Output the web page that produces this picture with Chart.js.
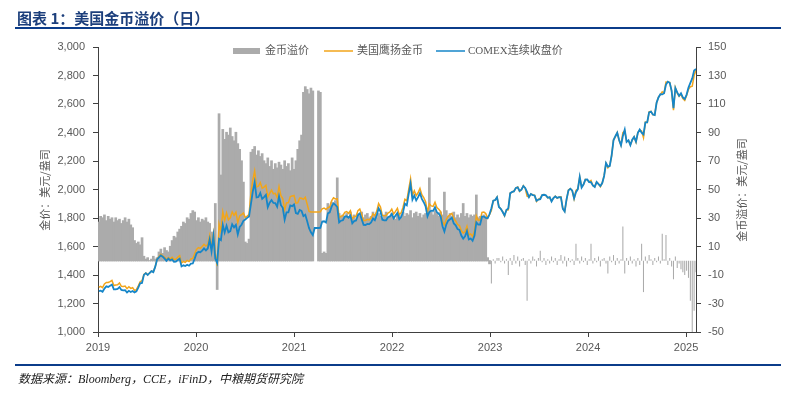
<!DOCTYPE html>
<html>
<head>
<meta charset="utf-8">
<script src="https://cdn.jsdelivr.net/npm/chart.js@4.4.1/dist/chart.umd.min.js"></script>
<style>
    html, body { margin: 0; padding: 0; background: #fff; }
    #contenitore { position: relative; width: 797px; height: 397px; overflow: hidden; }
    #myChart { position: absolute; left: 0; top: 0; }
    #titolo { position: absolute; left: 17px; top: 7px; font: bold 15px "Noto Sans CJK SC", sans-serif; color: #1c3f7c; white-space: nowrap; }
    .riga { position: absolute; left: 15px; width: 766px; height: 2px; background: #0b3c8a; }
    #fonte { position: absolute; left: 18px; top: 369px; font: italic 12px "Liberation Serif", "Noto Sans CJK SC", serif; color: #222; white-space: nowrap; }
</style>
</head>
<body>
<div id="contenitore">
    <canvas id="myChart" width="797" height="397"></canvas>
    <div id="titolo">图表 1：美国金币溢价（日）</div>
    <div class="riga" style="top:27px"></div>
    <div class="riga" style="top:364px"></div>
    <div id="fonte">数据来源：Bloomberg，CCE，iFinD，中粮期货研究院</div>
</div>
<script>
// dati settimanali (venerdi), dal 2019-01-04
var primoGiorno = '2019-01-04';

var comex2019 = [1287,1290,1282,1305, 1320,1316,1324,1332, 1299,1300,1303,1315,1295, 1292,1293,1277,1289, 1281,1288,1278,1285,1311, 1342,1344,1401,1413, 1400,1414,1427,1420, 1457,1509,1524,1537,1529, 1515,1500,1516,1503, 1510,1493,1494,1505, 1514,1460,1468,1463,1472, 1465,1480,1481,1515];
var comex2020 = [1552,1562,1560,1571,1587, 1573,1586,1649,1566, 1672,1516,1484,1654, 1645,1752,1699,1745, 1700,1708,1756,1734,1751, 1685,1737,1753,1780, 1790,1801,1810,1897,1986, 2050,1944,1947,1975, 1934,1947,1962,1876, 1907,1926,1906,1905,1879, 1951,1890,1872,1788, 1840,1840,1888,1883];
var comex2021 = [1895,1835,1829,1856,1850, 1813,1823,1777,1729, 1700,1680,1730,1730, 1730,1731,1775,1777,1768, 1832,1840,1880,1903, 1892,1877,1769,1781, 1784,1810,1812,1802,1817, 1763,1778,1782,1819, 1832,1791,1752,1751, 1758,1757,1768,1796,1784, 1818,1868,1846,1788, 1784,1784,1805,1811,1829];
var comex2022 = [1797,1817,1835,1792, 1807,1842,1900,1889, 1967,2040,1929,1958, 1923,1946,1974,1934,1911, 1882,1811,1842,1851, 1850,1875,1840,1830, 1811,1742,1705,1754,1781, 1791,1802,1762,1749, 1722,1717,1677,1655,1672, 1709,1650,1656,1640, 1676,1769,1754,1754, 1809,1810,1800,1798,1826];
var comex2023 = [1869,1921,1926,1945, 1877,1865,1842,1817, 1856,1868,1973,1983,1986, 2011,2015,1990,1999, 2025,2011,1981,1946, 1969,1961,1958,1920,1929, 1932,1961,1963,1960, 1942,1946,1916,1940, 1952,1941,1946,1945,1866, 1845,1932,1994,2006, 1992,1938,1981,2003, 2089,2014,2035,2069,2071];
var comex2024 = [2052,2051,2029,2018, 2053,2038,2024,2045, 2095,2185,2161,2165,2238, 2345,2374,2398,2347, 2310,2375,2420,2334,2346, 2311,2349,2369,2336, 2397,2421,2399,2386, 2470,2472,2541,2547,2527, 2523,2610,2646,2668, 2667,2676,2736,2756, 2749,2694,2570,2712,2681, 2657,2675,2646,2635];
var comex2025 = [2666,2715,2748,2780,2835, 2845];

var aquila2019 = [1314,1321,1312,1337, 1348,1347,1353,1362, 1326,1330,1331,1344,1321, 1320,1323,1304,1318, 1306,1311,1292,1297,1324, 1353,1360,1404,1414, 1402,1414,1428,1423, 1458,1511,1530,1545,1534, 1524,1507,1522,1513, 1524,1510,1510,1525, 1536,1484,1495,1489,1502, 1494,1513,1516,1549];
var aquila2020 = [1580,1592,1587,1600,1615, 1603,1613,1675,1586, 1690,1556,1464,1757, 1705,1844,1784,1835, 1788,1801,1843,1818,1841, 1767,1815,1823,1835, 1803,1813,1825,1973,2064, 2130,2018,2024,2048, 2009,2017,2030,1948, 1973,1996,1970,1973,1944, 2020,1957,1936,1858, 1906,1908,1951,1955];
var aquila2021 = [1959,1905,1907,1940,1938, 1931,1945,1897,1846, 1842,1842,1842,1842, 1842,1843,1865,1870,1860, 1872,1878,1921,1942, 1934,1935,1802,1812, 1816,1840,1845,1833,1851, 1793,1810,1811,1852, 1863,1825,1782,1783, 1791,1787,1799,1830,1816, 1848,1901,1877,1817, 1816,1818,1835,1842,1862];
var aquila2022 = [1828,1846,1868,1824, 1837,1876,1931,1922, 1999,2075,1959,1991, 1957,1977,2007,1964,1943, 1915,1842,1900,1885, 1882,1910,1873,1861, 1845,1774,1753,1789,1812, 1824,1833,1796,1779, 1754,1747,1710,1695,1703, 1742,1680,1688,1671, 1708,1815,1784,1785, 1839,1842,1831,1800,1824];
var aquila2023 = [1853,1922,1924,1947, 1879,1864,1845,1815, 1857,1858,1975,1980,1990, 2009,2018,1986,2000, 2027,2008,1953,1947, 1967,1964,1959,1916,1931, 1939,1960,1965,1957, 1943,1944,1919,1939, 1954,1938,1947,1949,1864, 1848,1928,1996,2005, 1993,1935,1993,2005, 2087,2017,2034,2071,2068];
var aquila2024 = [2053,2063,2027,2020, 2052,2041,2020,2046, 2097,2183,2152,2168,2237, 2349,2371,2400,2345, 2311,2399,2411,2336,2343, 2314,2347,2370,2332, 2399,2418,2411,2364, 2473,2470,2545,2548,2524, 2525,2609,2649,2666, 2686,2677,2754,2753, 2751,2690,2557,2715,2676, 2655,2669,2638,2625];
var aquila2025 = [2659,2703,2720,2725,2800, 2837];

var premio2019 = [27,31,30,32, 28,31,29,30, 27,30,28,29,26, 28,30,27,29, 25,23,14,12,13, 11,16,3,1, 2,0,1,3, 1,2,6,8,5, 9,7,6,10, 14,17,16,20, 22,24,27,26,30, 29,33,35,34];
var premio2020 = [28,30,27,29,28, 30,27,26,20, 18,40,-20,103, 60,92,85,90, 88,93,87,84,90, 82,78,70,55, 13,12,15,76,78, 80,74,77,73, 75,70,68,72, 66,70,64,68,65, 69,67,64,70, 66,68,63,72];
var premio2021 = [64,70,78,84,88, 118,122,120,117, 121,119,null,null, 119,118,5,6,5, 40,38,41,39, 42,58,33,31, 32,30,33,31,34, 30,32,29,33, 31,34,30,32, 33,30,31,34,32, 30,33,31,29, 32,34,30,31,33];
var premio2022 = [31,29,33,32, 30,34,31,33, 32,35,30,33, 34,31,33,30,32, 33,31,58,34, 32,35,33,31, 34,32,48,35,31, 33,31,34,30, 32,30,33,40,31, 33,30,32,31, 32,46,30,31, 30,32,31,2,-2];
var premio2023 = [-16,1,-2,2, 2,-1,3,-2, 1,-10,2,-3,4, -2,3,-4,1, 2,-3,-28,1, -2,3,1,-4,2, 7,-1,2,-3, 1,-2,3,-1, 2,-3,1,4,-2, 3,-4,2,-1, 1,-3,12,2, -2,3,-1,2,-3];
var premio2024 = [1,12,-2,2, -1,3,-4,1, 2,-2,-9,3,-1, 4,-3,2,-2, 1,24,-9,2,-3, 3,-2,1,-4, 2,-3,12,-22, 3,-2,4,1,-3, 2,-1,3,-2, 19,1,18,-3, 2,-4,-13,3,-5, -2,-6,-8,-10];
var premio2025 = [-7,-12,-28,-55,-35, -8];

var tickAnni = [2019, 2020, 2021, 2022, 2023, 2024, 2025];
var tickSinistra = [1000, 1200, 1400, 1600, 1800, 2000, 2200, 2400, 2600, 2800, 3000];
var tickDestra = [-50, -30, -10, 10, 30, 50, 70, 90, 110, 130, 150];

var comex = [].concat(comex2019, comex2020, comex2021, comex2022, comex2023, comex2024, comex2025);
var aquila = [].concat(aquila2019, aquila2020, aquila2021, aquila2022, aquila2023, aquila2024, aquila2025);
var premioVecchio = [].concat(premio2019, premio2020, premio2021, premio2022);
var premioNuovo = [].concat(premio2023, premio2024, premio2025);

// data -> anno decimale per l'asse x
var settimane = [];
var t0 = new Date(primoGiorno + 'T00:00:00Z').getTime();
for (var i = 0; i < comex.length; i++) {
    var d = new Date(t0 + i * 7 * 86400000);
    var anno = d.getUTCFullYear();
    var a0 = Date.UTC(anno, 0, 1);
    var a1 = Date.UTC(anno + 1, 0, 1);
    settimane.push(anno + (d.getTime() - a0) / (a1 - a0));
}

function punti(valori, da) {
    da = da || 0;
    var out = [];
    for (var i = 0; i < valori.length; i++) {
        out.push({ x: settimane[da + i], y: valori[i] });
    }
    return out;
}

var grigio = '#ababab';
var arancio = '#f2a51a';
var blu = '#1686c8';
var testo = '#595959';
var fontNumeri = { family: '"Liberation Sans", Arial, sans-serif', size: 11 };

function fissaTick(valori) {
    return function (scale) {
        scale.ticks = valori.map(function (v) { return { value: v }; });
    };
}

var decorazioni = {
    id: 'decorazioni',
    afterDraw: function (chart) {
        var ctx = chart.ctx;
        ctx.save();
        ctx.font = '11px "Liberation Serif", "Noto Sans CJK SC", serif';
        ctx.textBaseline = 'middle';
        ctx.textAlign = 'left';

        // legenda
        ctx.fillStyle = grigio;
        ctx.fillRect(233, 48, 27, 6);
        ctx.fillStyle = testo;
        ctx.fillText('金币溢价', 265, 51);

        ctx.strokeStyle = arancio;
        ctx.lineWidth = 1.5;
        ctx.beginPath(); ctx.moveTo(324, 51); ctx.lineTo(353, 51); ctx.stroke();
        ctx.fillText('美国鹰扬金币', 357, 51);

        ctx.strokeStyle = blu;
        ctx.beginPath(); ctx.moveTo(436, 51); ctx.lineTo(465, 51); ctx.stroke();
        ctx.fillText('COMEX连续收盘价', 468, 51);

        // titoli assi
        ctx.font = '11px "Noto Sans CJK SC", sans-serif';
        ctx.textAlign = 'center';
        ctx.translate(45, 190);
        ctx.rotate(-Math.PI / 2);
        ctx.fillText('金价：美元/盎司', 0, 0);
        ctx.rotate(Math.PI / 2);
        ctx.translate(742 - 45, 0);
        ctx.rotate(-Math.PI / 2);
        ctx.fillText('金币溢价：美元/盎司', 0, 0);
        ctx.restore();
    }
};

var ctx = document.getElementById('myChart').getContext('2d');
var myChart = new Chart(ctx, {
    data: {
        datasets: [{
            type: 'bar',
            label: '金币溢价',
            data: punti(premioVecchio),
            yAxisID: 'y2',
            backgroundColor: grigio,
            borderWidth: 0,
            grouped: false,
            barPercentage: 1,
            inflateAmount: 0.6,
            order: 4
        }, {
            type: 'bar',
            label: '金币溢价',
            data: punti(premioNuovo, premioVecchio.length),
            yAxisID: 'y2',
            backgroundColor: grigio,
            borderWidth: 0,
            grouped: false,
            barPercentage: 0.7,
            inflateAmount: 0,
            order: 3
        }, {
            type: 'line',
            label: '美国鹰扬金币',
            data: punti(aquila),
            yAxisID: 'y',
            borderColor: arancio,
            borderWidth: 1.5,
            pointRadius: 0,
            tension: 0,
            order: 2
        }, {
            type: 'line',
            label: 'COMEX连续收盘价',
            data: punti(comex),
            yAxisID: 'y',
            borderColor: blu,
            borderWidth: 1.8,
            pointRadius: 0,
            tension: 0,
            order: 1
        }]
    },
    options: {
        responsive: false,
        animation: false,
        layout: { padding: { left: 0, right: 0, top: 47, bottom: 35 } },
        plugins: {
            legend: { display: false },
            tooltip: { enabled: false }
        },
        scales: {
            x: {
                type: 'linear',
                offset: false,
                min: 2019,
                max: settimane[settimane.length - 1],
                afterBuildTicks: fissaTick(tickAnni),
                afterFit: function (scale) { scale.height = 30; },
                grid: { drawOnChartArea: false, offset: false, tickLength: 5, color: '#404040' },
                border: { color: '#404040' },
                ticks: { font: fontNumeri, color: testo, padding: 4, maxRotation: 0, callback: function (v) { return String(v); } }
            },
            y: {
                position: 'left',
                min: 1000,
                max: 3000,
                afterBuildTicks: fissaTick(tickSinistra),
                afterFit: function (scale) { scale.width = 98; },
                grid: { drawOnChartArea: false, tickLength: 5, color: '#404040' },
                border: { color: '#404040' },
                ticks: { font: fontNumeri, color: testo, padding: 8, callback: function (v) { return v.toLocaleString('en-US'); } }
            },
            y2: {
                position: 'right',
                min: -50,
                max: 150,
                afterBuildTicks: fissaTick(tickDestra),
                afterFit: function (scale) { scale.width = 101; },
                grid: { drawOnChartArea: false, tickLength: 5, color: '#404040' },
                border: { color: '#404040' },
                ticks: { font: fontNumeri, color: testo, padding: 7, callback: function (v) { return String(v); } }
            }
        }
    },
    plugins: [decorazioni]
});
</script>
</body>
</html>
